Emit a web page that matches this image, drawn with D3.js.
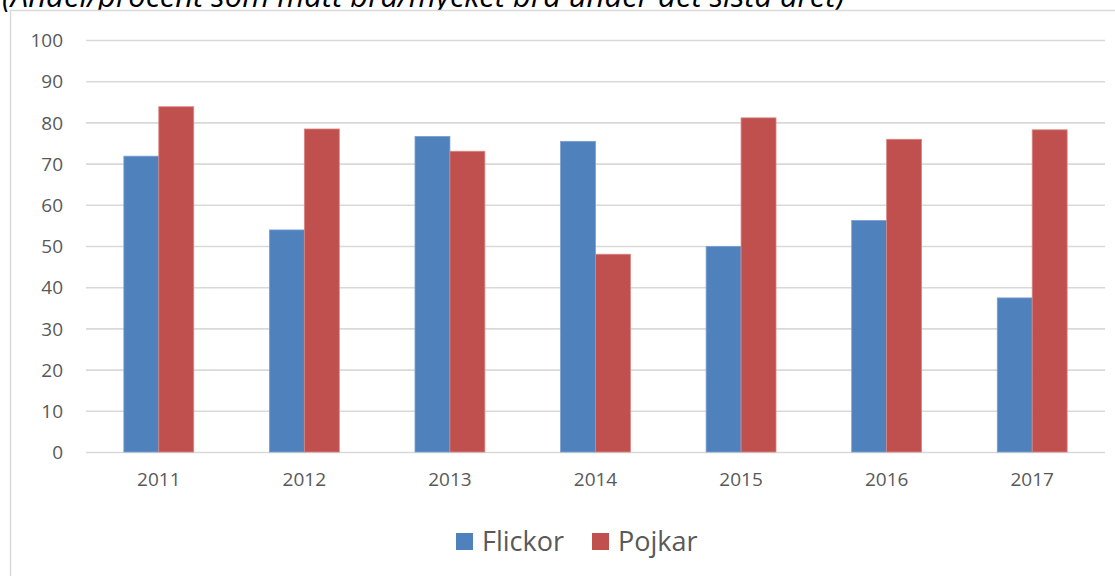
<!DOCTYPE html>
<html lang="sv">
<head>
<meta charset="UTF-8">
<script src="https://d3js.org/d3.v7.min.js"></script>
<style>
    body { margin: 0; background: #fff; }
    svg { display: block; }
    .axis text { fill: #595959; font-family: 'Open Sans', sans-serif; font-size: 19px; }
    .axis path { display: none; }
    .grid line { stroke: #d9d9d9; stroke-width: 1.6px; }
</style>
</head>
<body>
<svg id="viz" width="1115" height="576"></svg>
<script>
    // data
    var years = ["2011", "2012", "2013", "2014", "2015", "2016", "2017"];
    var flickor = [71.8, 53.9, 76.6, 75.4, 49.9, 56.2, 37.4];
    var pojkar = [83.8, 78.4, 73.0, 48.0, 81.1, 75.9, 78.2];
    var seriesNames = ["Flickor", "Pojkar"];
    var yTicks = [0, 10, 20, 30, 40, 50, 60, 70, 80, 90, 100];
    var title = "(Andel/procent som mått bra/mycket bra under det sista året)";

    var colors = ["#4f81bd", "#c0504d"];
    var svg = d3.select("#viz");
    var plot = {left: 86, right: 1105, top: 40, bottom: 452};

    // title, clipped by the top edge like in the original
    svg.append("text")
        .attr("x", 2)
        .attr("y", 7)
        .attr("font-family", "'Open Sans', sans-serif")
        .attr("font-style", "italic")
        .attr("font-size", 31)
        .attr("fill", "#000")
        .text(title);

    // chart box
    svg.append("rect")
        .attr("x", 10.5).attr("y", 10.5)
        .attr("width", 1120).attr("height", 580)
        .attr("fill", "#fff")
        .attr("stroke", "#d9d9d9")
        .attr("stroke-width", 1.5);

    var x0 = d3.scaleBand().domain(years).range([plot.left, plot.right]);
    var bw = x0.bandwidth();
    var x1 = d3.scaleBand().domain(seriesNames).range([bw * 0.26, bw * 0.74]);
    var y = d3.scaleLinear().domain([0, 100]).range([plot.bottom, plot.top]);

    var gy = svg.append("g")
        .attr("class", "axis grid")
        .attr("transform", "translate(" + plot.left + ",0)")
        .call(d3.axisLeft(y).tickValues(yTicks)
            .tickSizeInner(-(plot.right - plot.left))
            .tickSizeOuter(0)
            .tickPadding(23));
    gy.selectAll("text").attr("x", -23).attr("dy", "0.35em");

    var rows = years.map(function(yr, i) {
        return {year: yr, values: [{key: "Flickor", value: flickor[i]}, {key: "Pojkar", value: pojkar[i]}]};
    });

    svg.append("g")
        .selectAll("g")
        .data(rows)
        .enter().append("g")
        .attr("transform", function(d) { return "translate(" + x0(d.year) + ",0)"; })
        .selectAll("rect")
        .data(function(d) { return d.values; })
        .enter().append("rect")
        .attr("x", function(d) { return x1(d.key); })
        .attr("y", function(d) { return y(d.value); })
        .attr("width", x1.bandwidth())
        .attr("height", function(d) { return y(0) - y(d.value); })
        .attr("fill", function(d, i) { return colors[i]; })
        .attr("stroke", function(d, i) { return i == 0 ? "#7ba0d0" : "#d98583"; })
        .attr("stroke-width", 0.8);

    var gx = svg.append("g")
        .attr("class", "axis")
        .attr("transform", "translate(0," + plot.bottom + ")")
        .call(d3.axisBottom(x0).tickSize(0).tickPadding(21));

    // legend
    var legend = svg.append("g")
        .selectAll("g")
        .data(seriesNames)
        .enter().append("g")
        .attr("transform", function(d, i) { return "translate(" + (456 + i * 136) + ",533)"; });

    legend.append("rect")
        .attr("width", 17).attr("height", 17)
        .attr("fill", function(d, i) { return colors[i]; });

    legend.append("text")
        .attr("x", 26)
        .attr("y", 18)
        .attr("font-family", "'Open Sans', sans-serif")
        .attr("font-size", 27)
        .attr("fill", "#595959")
        .text(function(d) { return d; });
</script>
</body>
</html>
